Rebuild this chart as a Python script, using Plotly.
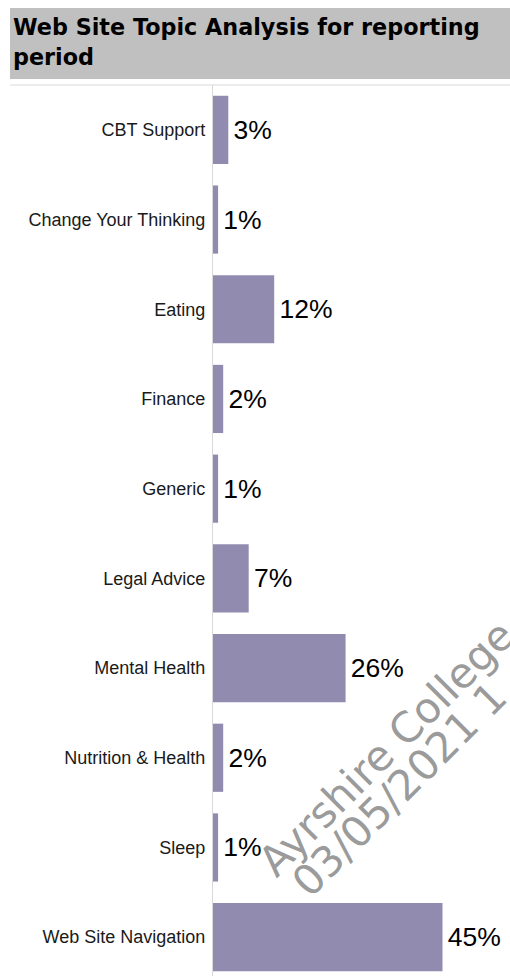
import plotly.graph_objects as go

# Share of web site visits by topic (percent)
topics = [
    "CBT Support",
    "Change Your Thinking",
    "Eating",
    "Finance",
    "Generic",
    "Legal Advice",
    "Mental Health",
    "Nutrition & Health",
    "Sleep",
    "Web Site Navigation",
]
shares = [3, 1, 12, 2, 1, 7, 26, 2, 1, 45]

title_lines = ["Web Site Topic Analysis for reporting", "period"]
watermark_lines = ["Ayrshire College", "03/05/2021 1"]

W, H = 510, 976
ML, MT = 213, 85
plot_w = W - ML
plot_h = H - MT
row_px = 89.7
px_per_pct = 5.1

fig = go.Figure(
    go.Bar(
        x=shares,
        y=topics,
        orientation="h",
        marker=dict(color="#928BB0", line=dict(width=0)),
        text=[f"\u200a{v}%" for v in shares],
        textposition="outside",
        textfont=dict(family="Liberation Sans, Arial, sans-serif", size=26.5, color="#000000"),
        cliponaxis=False,
        hoverinfo="skip",
    )
)

# pixel -> paper helpers
def px_x(px):
    return (px - ML) / plot_w

def px_y(py):
    return 1 - (py - MT) / plot_h

shapes = [
    # grey title band
    dict(type="rect", xref="paper", yref="paper",
         x0=px_x(10), x1=px_x(W), y0=px_y(79), y1=px_y(8),
         fillcolor="#C0C0C0", line=dict(width=0), layer="below"),
    # chart top border
    dict(type="line", xref="paper", yref="paper",
         x0=px_x(10), x1=px_x(W), y0=px_y(85), y1=px_y(85),
         line=dict(color="#D9D9D9", width=1.2)),
]

annotations = []
for i, line in enumerate(title_lines):
    annotations.append(dict(
        text=f"<b>{line}</b>", xref="paper", yref="paper",
        x=px_x(11), y=px_y(27 + 30 * i), xanchor="left", yanchor="middle",
        showarrow=False,
        font=dict(family="DejaVu Sans, Verdana, sans-serif", size=22.3, color="#000000"),
    ))

# diagonal watermark, one annotation per line
wm_centres = [(386, 748), (399, 789)]
for line, (cx, cy) in zip(watermark_lines, wm_centres):
    annotations.append(dict(
        text=line, xref="paper", yref="paper",
        x=px_x(cx), y=px_y(cy), xanchor="center", yanchor="middle",
        showarrow=False, textangle=-45,
        font=dict(family="DejaVu Sans, Verdana, sans-serif", size=42,
                  color="rgba(128,128,128,0.8)"),
    ))

n = len(topics)
fig.update_layout(
    width=W, height=H,
    margin=dict(l=ML, r=0, t=MT, b=0, pad=0),
    paper_bgcolor="white", plot_bgcolor="white",
    showlegend=False,
    bargap=0.24,
    shapes=shapes,
    annotations=annotations,
    xaxis=dict(range=[0, plot_w / px_per_pct], visible=False, fixedrange=True),
    yaxis=dict(
        type="category",
        categoryorder="array", categoryarray=topics,
        range=[n - 0.5 - (n * row_px - plot_h) / row_px, -0.5],
        showline=True, linecolor="#D9D9D9", linewidth=1.2,
        ticks="", ticklabelstandoff=3,
        tickfont=dict(family="Liberation Sans, Arial, sans-serif", size=18, color="#1a1a1a"),
        showgrid=False, zeroline=False, fixedrange=True,
    ),
)

fig.write_html("out.html")
